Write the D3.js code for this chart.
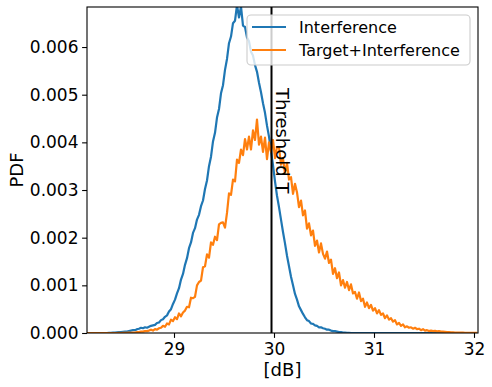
<!DOCTYPE html>
<html>
<head>
<meta charset="utf-8">
<script src="https://cdn.jsdelivr.net/npm/d3@7"></script>
<style>
body { margin: 0; background: #fff; }
text { font-family: "DejaVu Sans", sans-serif; }
</style>
</head>
<body>
<div id="vis"></div>
<script>
var width = 492;
var height = 387;
var margin = { top: 7, right: 14, bottom: 54, left: 87 };

// histogram bins (dB): first bin and bin width
var binStart = 28.13;
var binWidth = 0.02;

// PDF values, in units of 1e-3
var interference = [
  0, 0, 0, 0, 0, 0, 0, 0, 0, 0,
  0, 0.005, 0.005, 0.01, 0.01, 0.015, 0.02, 0.02, 0.025, 0.03,
  0.03, 0.04, 0.05, 0.06, 0.06, 0.08, 0.09, 0.11, 0.10, 0.12,
  0.11, 0.13, 0.15, 0.16, 0.17, 0.21, 0.22, 0.27, 0.29, 0.34,
  0.37, 0.45, 0.50, 0.61, 0.70, 0.83, 0.94, 1.12, 1.24, 1.43,
  1.57, 1.78, 1.90, 2.10, 2.20, 2.38, 2.48, 2.66, 2.78, 3.02,
  3.20, 3.50, 3.70, 4.02, 4.20, 4.52, 4.70, 5.03, 5.20, 5.52,
  5.75, 6.08, 6.22, 6.50, 6.55, 6.88, 6.62, 6.85, 6.45, 6.42,
  6.20, 6.12, 5.90, 5.82, 5.62, 5.48, 5.25, 5.05, 4.82, 4.62,
  4.35, 4.12, 3.82, 3.52, 3.18, 2.88, 2.64, 2.38, 2.12, 1.88,
  1.62, 1.40, 1.18, 1.00, 0.82, 0.70, 0.56, 0.48, 0.40, 0.33,
  0.27, 0.25, 0.20, 0.19, 0.16, 0.15, 0.12, 0.12, 0.10, 0.09,
  0.07, 0.07, 0.05, 0.04, 0.04, 0.03, 0.02, 0.02, 0.01, 0.01,
  0.005, 0.005, 0, 0, 0, 0, 0, 0, 0, 0,
  0, 0, 0, 0, 0, 0, 0, 0, 0, 0,
  0, 0, 0, 0, 0, 0, 0, 0, 0, 0,
  0, 0, 0, 0, 0, 0, 0, 0, 0, 0,
  0, 0, 0, 0, 0, 0, 0, 0, 0, 0,
  0, 0, 0, 0, 0, 0, 0, 0, 0, 0,
  0, 0, 0, 0, 0, 0
];

var targetInterference = [
  0, 0, 0, 0, 0, 0, 0, 0, 0, 0,
  0, 0, 0, 0, 0, 0, 0.005, 0, 0.005, 0.005,
  0.005, 0.01, 0.005, 0.01, 0.01, 0.02, 0.02, 0.03, 0.03, 0.04,
  0.04, 0.05, 0.07, 0.05, 0.08, 0.07, 0.10, 0.11, 0.15, 0.13,
  0.20, 0.18, 0.28, 0.25, 0.33, 0.29, 0.41, 0.35, 0.43, 0.47,
  0.55, 0.54, 0.74, 0.73, 0.76, 1.00, 1.07, 1.10, 1.38, 1.40,
  1.65, 1.58, 1.90, 1.85, 2.02, 1.95, 2.28, 2.31, 2.32, 2.21,
  2.52, 2.93, 2.90, 3.22, 3.18, 3.64, 3.57, 3.85, 3.73, 4.07,
  3.85, 4.12, 3.85, 4.25, 4.05, 4.48, 3.95, 4.12, 3.80, 4.10,
  3.65, 4.00, 3.80, 4.05, 3.67, 3.90, 3.90, 3.53, 3.66, 3.35,
  3.57, 3.22, 3.27, 2.92, 3.13, 2.95, 2.64, 2.78, 2.47, 2.57,
  2.19, 2.30, 2.05, 2.15, 1.83, 1.94, 1.69, 1.88, 1.66, 1.56,
  1.71, 1.47, 1.54, 1.24, 1.36, 1.15, 1.27, 1.00, 1.11, 0.95,
  1.07, 0.90, 1.02, 0.83, 0.86, 0.72, 0.85, 0.67, 0.72, 0.55,
  0.64, 0.52, 0.59, 0.47, 0.52, 0.41, 0.48, 0.38, 0.41, 0.31,
  0.37, 0.28, 0.31, 0.24, 0.27, 0.18, 0.21, 0.15, 0.18, 0.12,
  0.14, 0.11, 0.12, 0.09, 0.11, 0.08, 0.09, 0.06, 0.08, 0.05,
  0.06, 0.04, 0.05, 0.04, 0.045, 0.035, 0.04, 0.03, 0.03, 0.025,
  0.02, 0.02, 0.015, 0.015, 0.01, 0.01, 0.01, 0.008, 0.008, 0.005,
  0.005, 0.004, 0.003, 0.002, 0.002, 0.001
];

var seriesNames = ["Interference", "Target+Interference"];
var seriesColors = ["#1f77b4", "#ff7f0e"];
var xDomain = [28.13, 32.04];
var yDomain = [0, 0.00684];
var xTicks = [29, 30, 31, 32];
var yTicks = [0, 0.001, 0.002, 0.003, 0.004, 0.005, 0.006];
var threshold = 29.975;
var thresholdLabel = "Threshold T";

function toPoints(values) {
  return values.map(function (v, i) {
    return { x: binStart + i * binWidth, y: v / 1000 };
  });
}

function init() {
  var svg = d3
    .select("#vis")
    .append("svg")
    .attr("width", width)
    .attr("height", height);

  var x = d3.scaleLinear().domain(xDomain).range([margin.left, width - margin.right]);
  var y = d3.scaleLinear().domain(yDomain).range([height - margin.bottom, margin.top]);

  svg.append("clipPath")
    .attr("id", "plotclip")
    .append("rect")
    .attr("x", margin.left)
    .attr("y", margin.top)
    .attr("width", width - margin.left - margin.right)
    .attr("height", height - margin.top - margin.bottom);

  // curves
  var line = d3.line()
    .x(function (d) { return x(d.x); })
    .y(function (d) { return y(d.y); });

  var series = [toPoints(interference), toPoints(targetInterference)];
  var plot = svg.append("g").attr("clip-path", "url(#plotclip)");
  series.forEach(function (s, i) {
    plot.append("path")
      .datum(s)
      .attr("fill", "none")
      .attr("stroke", seriesColors[i])
      .attr("stroke-width", 2.2)
      .attr("stroke-linejoin", "round")
      .attr("d", line);
  });

  // threshold
  plot.append("line")
    .attr("x1", x(threshold))
    .attr("x2", x(threshold))
    .attr("y1", margin.top)
    .attr("y2", height - margin.bottom)
    .attr("stroke", "black")
    .attr("stroke-width", 2);

  svg.append("text")
    .attr("transform", "translate(" + (x(threshold) + 4) + ",88) rotate(90)")
    .attr("font-size", 18)
    .attr("fill", "black")
    .text(thresholdLabel);

  // axes
  var xAxis = svg.append("g")
    .attr("transform", "translate(0," + (height - margin.bottom) + ")")
    .call(d3.axisBottom(x).tickValues(xTicks).tickSize(4.9).tickPadding(4.6).tickFormat(d3.format("d")));
  var yAxis = svg.append("g")
    .attr("transform", "translate(" + margin.left + ",0)")
    .call(d3.axisLeft(y).tickValues(yTicks).tickSize(4.9).tickPadding(3.6).tickFormat(d3.format(".3f")));

  [xAxis, yAxis].forEach(function (a) {
    a.select(".domain").remove();
    a.selectAll("line").attr("stroke", "black").attr("stroke-width", 1.1);
    a.selectAll("text")
      .attr("font-size", 17)
      .attr("fill", "black")
      .style("font-family", "'DejaVu Sans', sans-serif");
  });

  // spines
  svg.append("rect")
    .attr("x", margin.left)
    .attr("y", margin.top)
    .attr("width", width - margin.left - margin.right)
    .attr("height", height - margin.top - margin.bottom)
    .attr("fill", "none")
    .attr("stroke", "black")
    .attr("stroke-width", 1.1);

  // axis labels
  svg.append("text")
    .attr("x", (margin.left + width - margin.right) / 2)
    .attr("y", 376)
    .attr("text-anchor", "middle")
    .attr("font-size", 18)
    .text("[dB]");

  svg.append("text")
    .attr("transform", "translate(23," + (margin.top + height - margin.bottom) / 2 + ") rotate(-90)")
    .attr("text-anchor", "middle")
    .attr("font-size", 18)
    .text("PDF");

  // legend
  var legend = svg.append("g");
  legend.append("rect")
    .attr("x", 247)
    .attr("y", 15)
    .attr("width", 223)
    .attr("height", 50)
    .attr("rx", 4)
    .attr("fill", "white")
    .attr("fill-opacity", 0.8)
    .attr("stroke", "#cccccc")
    .attr("stroke-width", 1.1);

  seriesNames.forEach(function (name, i) {
    var ly = 27 + i * 23;
    legend.append("line")
      .attr("x1", 252)
      .attr("x2", 286)
      .attr("y1", ly)
      .attr("y2", ly)
      .attr("stroke", seriesColors[i])
      .attr("stroke-width", 2.2);
    legend.append("text")
      .attr("x", 299)
      .attr("y", ly + 6)
      .attr("font-size", 16)
      .attr("fill", "black")
      .text(name);
  });
}

init();
</script>
</body>
</html>
